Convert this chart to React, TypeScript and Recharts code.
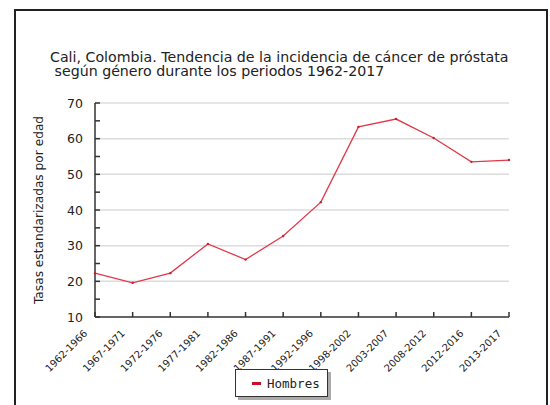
import { LineChart, Line, XAxis, YAxis, CartesianGrid } from "recharts";

// periods and age-standardised rates (men)
const periods = [
  "1962-1966",
  "1967-1971",
  "1972-1976",
  "1977-1981",
  "1982-1986",
  "1987-1991",
  "1992-1996",
  "1998-2002",
  "2003-2007",
  "2008-2012",
  "2012-2016",
  "2013-2017",
];

const hombres = [22.3, 19.6, 22.3, 30.5, 26.1, 32.7, 42.2, 63.3, 65.5, 60.2, 53.5, 54.0];

const yTicks = [10, 15, 20, 25, 30, 35, 40, 45, 50, 55, 60, 65, 70];
const gridValues = [20, 30, 40, 50, 60, 70];

const lineColor = "#e2384a";
const axisColor = "#333";

const data = periods.map((periodo, i) => ({ periodo, hombres: hombres[i] }));

function YTick(props: any) {
  const { x, y, payload } = props;
  const major = payload.value % 10 === 0;
  return (
    <g>
      <line x1={x} x2={x + 5} y1={y} y2={y} stroke={axisColor} strokeWidth={1.5} />
      {major && (
        <text
          x={x - 12}
          y={y}
          textAnchor="end"
          dominantBaseline="central"
          fontFamily="DejaVu Sans"
          fontSize={12.5}
          fill="#222"
        >
          {payload.value}
        </text>
      )}
    </g>
  );
}

function XTick(props: any) {
  const { x, y, payload } = props;
  const ax = x - 7;
  const ay = y + 17;
  return (
    <g>
      <line x1={x} x2={x} y1={y} y2={y - 5} stroke={axisColor} strokeWidth={1.5} />
      <text
        x={ax}
        y={ay}
        textAnchor="end"
        transform={`rotate(-45 ${ax} ${ay})`}
        fontFamily="DejaVu Sans"
        fontSize={10}
        fill="#222"
      >
        {payload.value}
      </text>
    </g>
  );
}

export default function App() {
  return (
    <div style={{ position: "absolute", left: 0, top: 0, width: 550, height: 405, overflow: "hidden", background: "#fff" }}>
      <div
        style={{
          position: "absolute",
          left: 14,
          top: 9,
          width: 530,
          height: 500,
          border: "2px solid #222",
        }}
      />
      <div
        style={{
          position: "absolute",
          left: 50,
          top: 50,
          fontFamily: "DejaVu Sans",
          fontSize: 14.2,
          lineHeight: "14px",
          color: "#222",
          whiteSpace: "pre",
        }}
      >
        {"Cali, Colombia. Tendencia de la incidencia de cáncer de próstata\n según género durante los periodos 1962-2017"}
      </div>
      <div style={{ position: "absolute", left: 0, top: 0 }}>
        <LineChart width={550} height={405} data={data} margin={{ top: 103, right: 41, bottom: 0, left: 0 }}>
          <CartesianGrid horizontal vertical={false} horizontalValues={gridValues} stroke="#dcdcdc" strokeWidth={1.5} />
          <XAxis
            dataKey="periodo"
            height={88}
            interval={0}
            tickLine={false}
            tickSize={0}
            tickMargin={0}
            stroke={axisColor}
            strokeWidth={1.5}
            tick={<XTick />}
          />
          <YAxis
            width={95}
            domain={[10, 70]}
            ticks={yTicks}
            interval={0}
            tickLine={false}
            tickSize={0}
            tickMargin={0}
            stroke={axisColor}
            strokeWidth={1.5}
            tick={<YTick />}
            label={{
              content: () => (
                <text
                  x={39}
                  y={210}
                  transform="rotate(-90 39 210)"
                  textAnchor="middle"
                  dominantBaseline="central"
                  fontFamily="DejaVu Sans"
                  fontSize={12.2}
                  fill="#222"
                >
                  Tasas estandarizadas por edad
                </text>
              ),
            }}
          />
          <Line
            type="linear"
            dataKey="hombres"
            name="Hombres"
            stroke={lineColor}
            strokeWidth={1.3}
            dot={{ r: 1.2, fill: "#c42233", stroke: "none" }}
            isAnimationActive={false}
          />
        </LineChart>
      </div>
      <div
        style={{
          position: "absolute",
          left: 235,
          top: 369,
          width: 91,
          height: 26,
          border: "1px solid #333",
          background: "#fff",
          boxShadow: "3px 3px 0 #aaa",
          display: "flex",
          alignItems: "center",
        }}
      >
        <span style={{ display: "inline-block", width: 9, height: 3, background: "#c8102e", marginLeft: 16, marginRight: 6 }} />
        <span style={{ fontFamily: "DejaVu Sans Mono", fontSize: 12.5, color: "#222" }}>Hombres</span>
      </div>
    </div>
  );
}
